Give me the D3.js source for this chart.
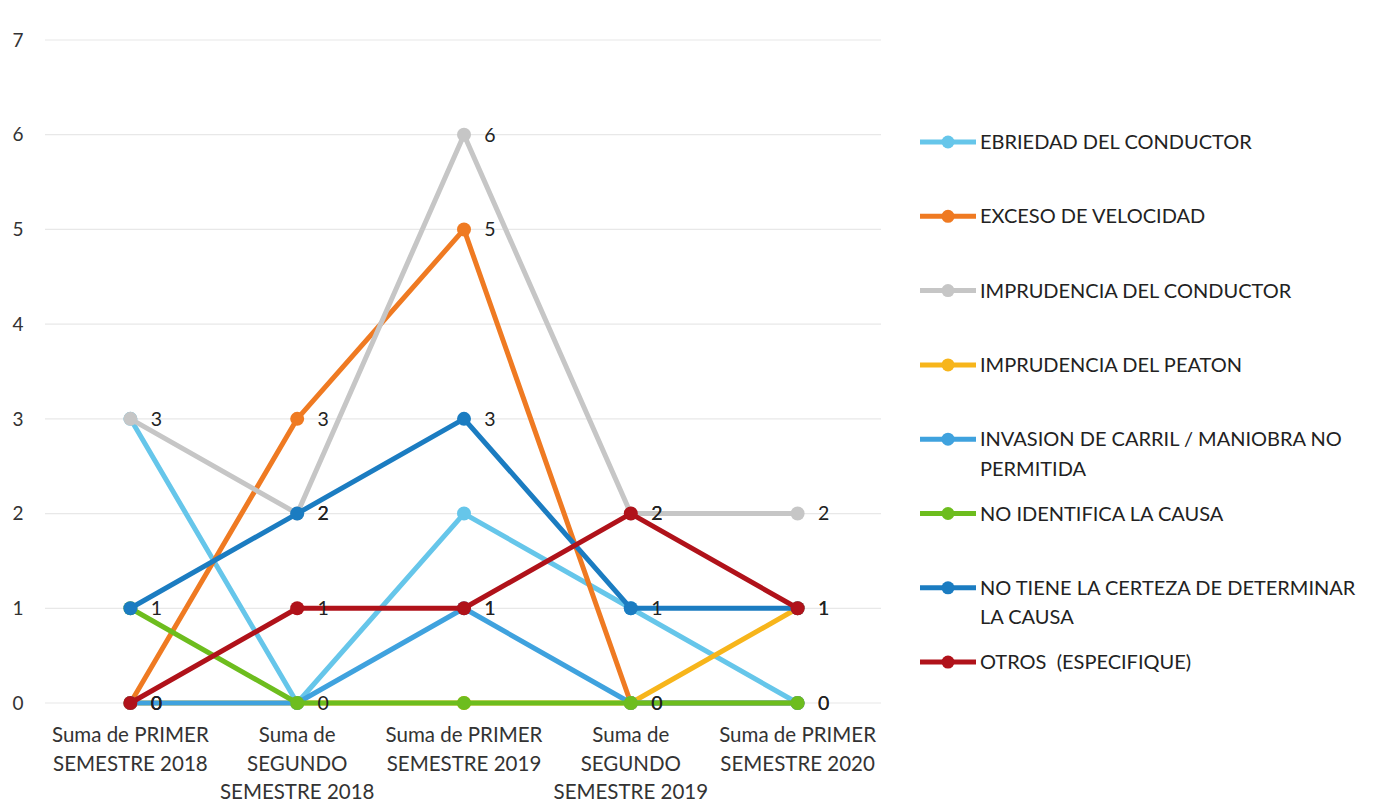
<!DOCTYPE html>
<html>
<head>
<meta charset="utf-8">
<script src="https://cdn.jsdelivr.net/npm/d3@7"></script>
<style>
  body { margin: 0; background: #fff; }
  svg text { font-family: Lato, "Open Sans", sans-serif; fill: #333; white-space: pre; }
</style>
</head>
<body>
<svg id="chart" width="1386" height="809"></svg>
<script>
// categories (x axis), each label split in lines
const categories = [
  ["Suma de PRIMER", "SEMESTRE 2018"],
  ["Suma de", "SEGUNDO", "SEMESTRE 2018"],
  ["Suma de PRIMER", "SEMESTRE 2019"],
  ["Suma de", "SEGUNDO", "SEMESTRE 2019"],
  ["Suma de PRIMER", "SEMESTRE 2020"]
];
const yTicks = [0, 1, 2, 3, 4, 5, 6, 7];

const seriesNames = [
  "EBRIEDAD DEL CONDUCTOR",
  "EXCESO DE VELOCIDAD",
  "IMPRUDENCIA DEL CONDUCTOR",
  "IMPRUDENCIA DEL PEATON",
  "INVASION DE CARRIL / MANIOBRA NO PERMITIDA",
  "NO IDENTIFICA LA CAUSA",
  "NO TIENE LA CERTEZA DE DETERMINAR LA CAUSA",
  "OTROS  (ESPECIFIQUE)"
];
const ebriedad   = [3, 0, 2, 1, 0];
const exceso     = [0, 3, 5, 0, 0];
const imprCond   = [3, 2, 6, 2, 2];
const imprPeaton = [0, 0, 0, 0, 1];
const invasion   = [0, 0, 1, 0, 0];
const noIdent    = [1, 0, 0, 0, 0];
const noCerteza  = [1, 2, 3, 1, 1];
const otros      = [0, 1, 1, 2, 1];
const seriesValues = [ebriedad, exceso, imprCond, imprPeaton, invasion, noIdent, noCerteza, otros];
const seriesColors = ["#66c6ea", "#ef7a22", "#c6c6c6", "#f7b51b", "#3fa2de", "#6dbd1e", "#1b7cc1", "#b0121a"];
// which series show data labels
const seriesLabeled = [false, true, true, false, true, false, true, true];
// legend text lines
const legendLines = [
  ["EBRIEDAD DEL CONDUCTOR"],
  ["EXCESO DE VELOCIDAD"],
  ["IMPRUDENCIA DEL CONDUCTOR"],
  ["IMPRUDENCIA DEL PEATON"],
  ["INVASION DE CARRIL / MANIOBRA NO", "PERMITIDA"],
  ["NO IDENTIFICA LA CAUSA"],
  ["NO TIENE LA CERTEZA DE DETERMINAR", "LA CAUSA"],
  ["OTROS  (ESPECIFIQUE)"]
];

const svg = d3.select("#chart");
const plot = { left: 47, right: 881, top: 40, bottom: 703 };

const x = d3.scaleBand()
  .domain(d3.range(categories.length))
  .range([plot.left, plot.right]);
const y = d3.scaleLinear().domain([0, 7]).range([plot.bottom, plot.top]);

// gridlines
svg.append("g")
  .selectAll("line")
  .data(yTicks)
  .enter()
  .append("line")
    .attr("x1", plot.left - 2)
    .attr("x2", plot.right)
    .attr("y1", d => y(d))
    .attr("y2", d => y(d))
    .attr("stroke", "#e8e8e8")
    .attr("stroke-width", 1.2);

// y tick labels
svg.append("g")
  .selectAll("text")
  .data(yTicks)
  .enter()
  .append("text")
    .attr("x", 18)
    .attr("y", d => y(d))
    .attr("dy", "0.35em")
    .attr("text-anchor", "middle")
    .attr("font-size", 19)
    .text(d => d);

// x labels
const xl = svg.append("g")
  .selectAll("text")
  .data(categories)
  .enter()
  .append("text")
    .attr("text-anchor", "middle")
    .attr("font-size", 20.5)
    .attr("transform", (d, i) => "translate(" + (x(i) + x.bandwidth() / 2) + ",742)");
xl.selectAll("tspan")
  .data(d => d)
  .enter()
  .append("tspan")
    .attr("x", 0)
    .attr("y", (d, j) => j * 28.5)
    .text(d => d);

const cx = i => x(i) + x.bandwidth() / 2;
const line = d3.line().x((d, i) => cx(i)).y(d => y(d));

// series lines and markers
seriesValues.forEach(function(vals, s) {
  const g = svg.append("g");
  g.append("path")
    .datum(vals)
    .attr("d", line)
    .attr("fill", "none")
    .attr("stroke", seriesColors[s])
    .attr("stroke-width", 5)
    .attr("stroke-linejoin", "round");
  g.selectAll("circle")
    .data(vals)
    .enter()
    .append("circle")
      .attr("cx", (d, i) => cx(i))
      .attr("cy", d => y(d))
      .attr("r", 7)
      .attr("fill", seriesColors[s]);
});

// data labels
seriesValues.forEach(function(vals, s) {
  if (!seriesLabeled[s]) return;
  svg.append("g")
    .selectAll("text")
    .data(vals)
    .enter()
    .append("text")
      .attr("x", (d, i) => cx(i) + 26)
      .attr("y", d => y(d))
      .attr("dy", "0.35em")
      .attr("text-anchor", "middle")
      .attr("font-size", 19.5)
      .style("fill", "#222")
      .text(d => d);
});

// legend
const legend = svg.append("g")
  .selectAll("g")
  .data(legendLines)
  .enter()
  .append("g")
    .attr("transform", (d, i) => "translate(920," + (142 + i * 74.3) + ")");
legend.append("line")
  .attr("x1", 0).attr("x2", 56)
  .attr("stroke", (d, i) => seriesColors[i])
  .attr("stroke-width", 5);
legend.append("circle")
  .attr("cx", 28)
  .attr("r", 6.5)
  .attr("fill", (d, i) => seriesColors[i]);
const lt = legend.append("text")
  .attr("font-size", 20)
  .style("fill", "#222");
lt.selectAll("tspan")
  .data(d => d)
  .enter()
  .append("tspan")
    .attr("x", 60)
    .attr("y", (d, j) => j * 29.5)
    .attr("dy", "0.35em")
    .text(d => d);
</script>
</body>
</html>
